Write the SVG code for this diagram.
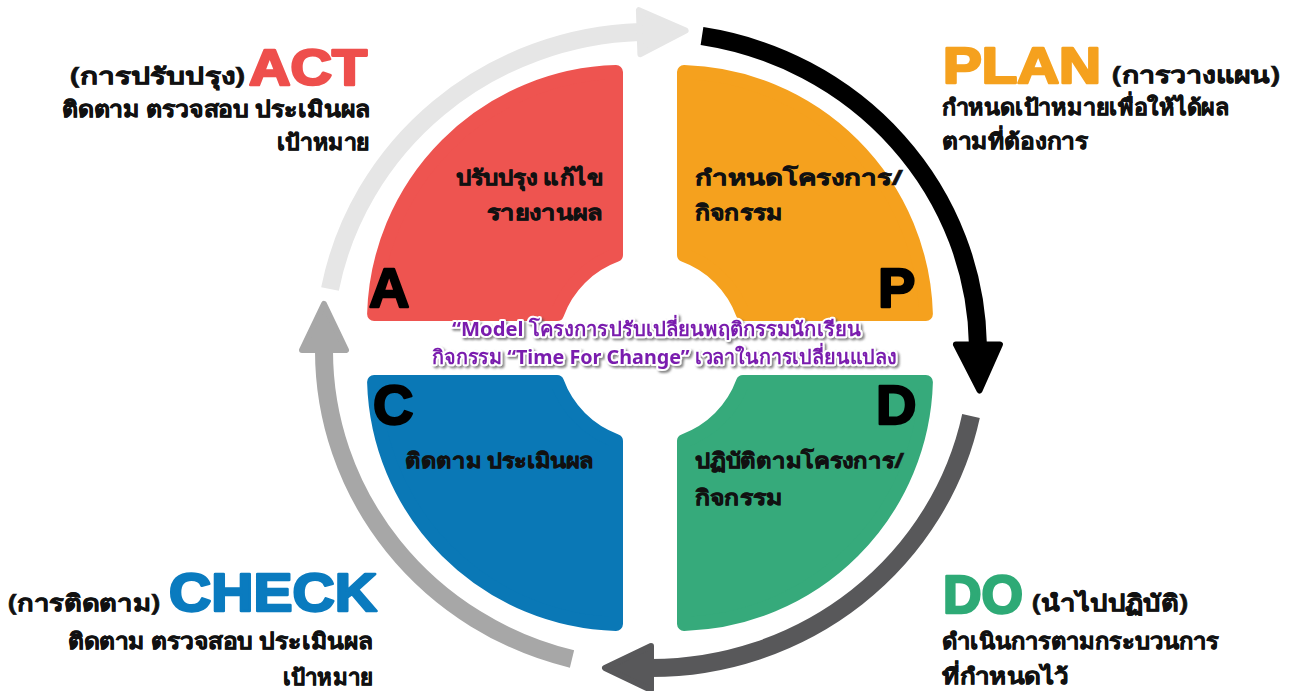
<svg xmlns="http://www.w3.org/2000/svg" width="1296" height="691" viewBox="0 0 1296 691">
<defs>
<style>
.th{font-family:"Noto Sans","DejaVu Sans",sans-serif;font-weight:700;fill:#111;stroke:#111;stroke-width:0.6;}
.big{font-family:"Liberation Sans",Arial,sans-serif;font-weight:900;stroke-width:2.6;stroke-linejoin:round;}
.ltr{font-family:"Liberation Sans",Arial,sans-serif;font-weight:900;font-size:56px;fill:#000;stroke:#000;stroke-width:2.4;stroke-linejoin:round;}
.q{stroke-width:14;stroke-linejoin:round;}
.ring{fill:none;stroke-width:18;stroke-linecap:butt;}
.head{stroke-width:6;stroke-linejoin:round;}
.ctr{font-family:"Noto Sans","DejaVu Sans",sans-serif;font-weight:700;font-size:20px;fill:#7a1fae;stroke:#fff;stroke-width:4;stroke-linejoin:round;paint-order:stroke;filter:url(#sh);}
</style>
<path id="quad" d="M -34,-275.9 L -34,-92.98 A 99 99 0 0 0 -92.98,-34 L -275.9,-34 A 249 249 0 0 1 -34,-275.9 Z"/>
<filter id="sh" x="-5%" y="-30%" width="110%" height="160%">
<feDropShadow dx="2" dy="2" stdDeviation="1.2" flood-color="#555" flood-opacity="0.7"/>
</filter>
</defs>
<rect width="1296" height="691" fill="#fff"/>

<g id="connectors">
<path class="ring" stroke="#e6e6e6" d="M 330 289 A 327 318 0 0 1 640 32"/>
<polygon class="head" fill="#e6e6e6" stroke="#e6e6e6" points="640.4,54.2 685.6,30.6 638.9,10.2"/>
<path class="ring" stroke="#000" d="M 702 36 A 327 318 0 0 1 977.9 344.5"/>
<polygon class="head" fill="#000" stroke="#000" points="955.9,344.5 979.5,390.5 999.9,344.5"/>
<path class="ring" stroke="#58585a" d="M 971 416 A 327 318 0 0 1 651 668"/>
<polygon class="head" fill="#58585a" stroke="#58585a" points="651,646 605,668 651,690"/>
<path class="ring" stroke="#a7a7a7" d="M 572 659 A 327 318 0 0 1 324 350"/>
<polygon class="head" fill="#a7a7a7" stroke="#a7a7a7" points="302,350 324,304 346,350"/>
</g>

<g id="node-act-quadrant">
<use href="#quad" class="q" fill="#ee5450" stroke="#ee5450" transform="translate(650,348)"/>
<text class="th" font-size="21" text-anchor="end" x="603" y="185" textLength="147" lengthAdjust="spacingAndGlyphs">ปรับปรุง แก้ไข</text>
<text class="th" font-size="21" text-anchor="end" x="603" y="220" textLength="116" lengthAdjust="spacingAndGlyphs">รายงานผล</text>
<text class="ltr" x="369" y="307">A</text>
</g>

<g id="node-plan-quadrant">
<use href="#quad" class="q" fill="#f5a11e" stroke="#f5a11e" transform="translate(650,348) scale(-1,1)"/>
<text class="th" font-size="21" x="695" y="185" textLength="208" lengthAdjust="spacingAndGlyphs">กำหนดโครงการ/</text>
<text class="th" font-size="21" x="695" y="220" textLength="87" lengthAdjust="spacingAndGlyphs">กิจกรรม</text>
<text class="ltr" x="878" y="307">P</text>
</g>

<g id="node-check-quadrant">
<use href="#quad" class="q" fill="#0a78b6" stroke="#0a78b6" transform="translate(650,348) scale(1,-1)"/>
<text class="th" font-size="21" x="405" y="468" textLength="189" lengthAdjust="spacingAndGlyphs">ติดตาม ประเมินผล</text>
<text class="ltr" x="373" y="424">C</text>
</g>

<g id="node-do-quadrant">
<use href="#quad" class="q" fill="#36aa7b" stroke="#36aa7b" transform="translate(650,348) scale(-1,-1)"/>
<text class="th" font-size="21" x="695" y="468" textLength="209" lengthAdjust="spacingAndGlyphs">ปฏิบัติตามโครงการ/</text>
<text class="th" font-size="21" x="695" y="505" textLength="87" lengthAdjust="spacingAndGlyphs">กิจกรรม</text>
<text class="ltr" x="876" y="424">D</text>
</g>

<g id="node-center-title">
<text class="ctr" x="452" y="336" textLength="409" lengthAdjust="spacingAndGlyphs">“Model โครงการปรับเปลี่ยนพฤติกรรมนักเรียน</text>
<text class="ctr" x="432" y="364" textLength="465" lengthAdjust="spacingAndGlyphs">กิจกรรม “Time For Change” เวลาในการเปลี่ยนแปลง</text>
</g>

<g id="node-act">
<text class="th" font-size="23" x="70" y="84" textLength="175" lengthAdjust="spacingAndGlyphs">(การปรับปรุง)</text>
<text class="big" font-size="50" fill="#ee4f4c" stroke="#ee4f4c" x="249" y="85" textLength="118" lengthAdjust="spacingAndGlyphs">ACT</text>
<text class="th" font-size="22" x="62" y="117" textLength="308" lengthAdjust="spacingAndGlyphs">ติดตาม ตรวจสอบ ประเมินผล</text>
<text class="th" font-size="22" text-anchor="end" x="370" y="150" textLength="93" lengthAdjust="spacingAndGlyphs">เป้าหมาย</text>
</g>

<g id="node-plan">
<text class="big" font-size="50" fill="#f5a11e" stroke="#f5a11e" x="943" y="83" textLength="158" lengthAdjust="spacingAndGlyphs">PLAN</text>
<text class="th" font-size="23" x="1112" y="83" textLength="168" lengthAdjust="spacingAndGlyphs">(การวางแผน)</text>
<text class="th" font-size="22" x="942" y="115" textLength="287" lengthAdjust="spacingAndGlyphs">กำหนดเป้าหมายเพื่อให้ได้ผล</text>
<text class="th" font-size="22" x="942" y="149" textLength="146" lengthAdjust="spacingAndGlyphs">ตามที่ต้องการ</text>
</g>

<g id="node-check">
<text class="th" font-size="23" x="8" y="611" textLength="152" lengthAdjust="spacingAndGlyphs">(การติดตาม)</text>
<text class="big" font-size="53" fill="#0a7bbf" stroke="#0a7bbf" x="169" y="611" textLength="208" lengthAdjust="spacingAndGlyphs">CHECK</text>
<text class="th" font-size="22" text-anchor="end" x="373" y="649" textLength="305" lengthAdjust="spacingAndGlyphs">ติดตาม ตรวจสอบ ประเมินผล</text>
<text class="th" font-size="22" text-anchor="end" x="373" y="685" textLength="90" lengthAdjust="spacingAndGlyphs">เป้าหมาย</text>
</g>

<g id="node-do">
<text class="big" font-size="53" fill="#2eaa76" stroke="#2eaa76" x="943" y="613" textLength="80" lengthAdjust="spacingAndGlyphs">DO</text>
<text class="th" font-size="23" x="1032" y="611" textLength="156" lengthAdjust="spacingAndGlyphs">(นำไปปฏิบัติ)</text>
<text class="th" font-size="22" x="942" y="649" textLength="277" lengthAdjust="spacingAndGlyphs">ดำเนินการตามกระบวนการ</text>
<text class="th" font-size="22" x="942" y="684" textLength="126" lengthAdjust="spacingAndGlyphs">ที่กำหนดไว้</text>
</g>
</svg>
